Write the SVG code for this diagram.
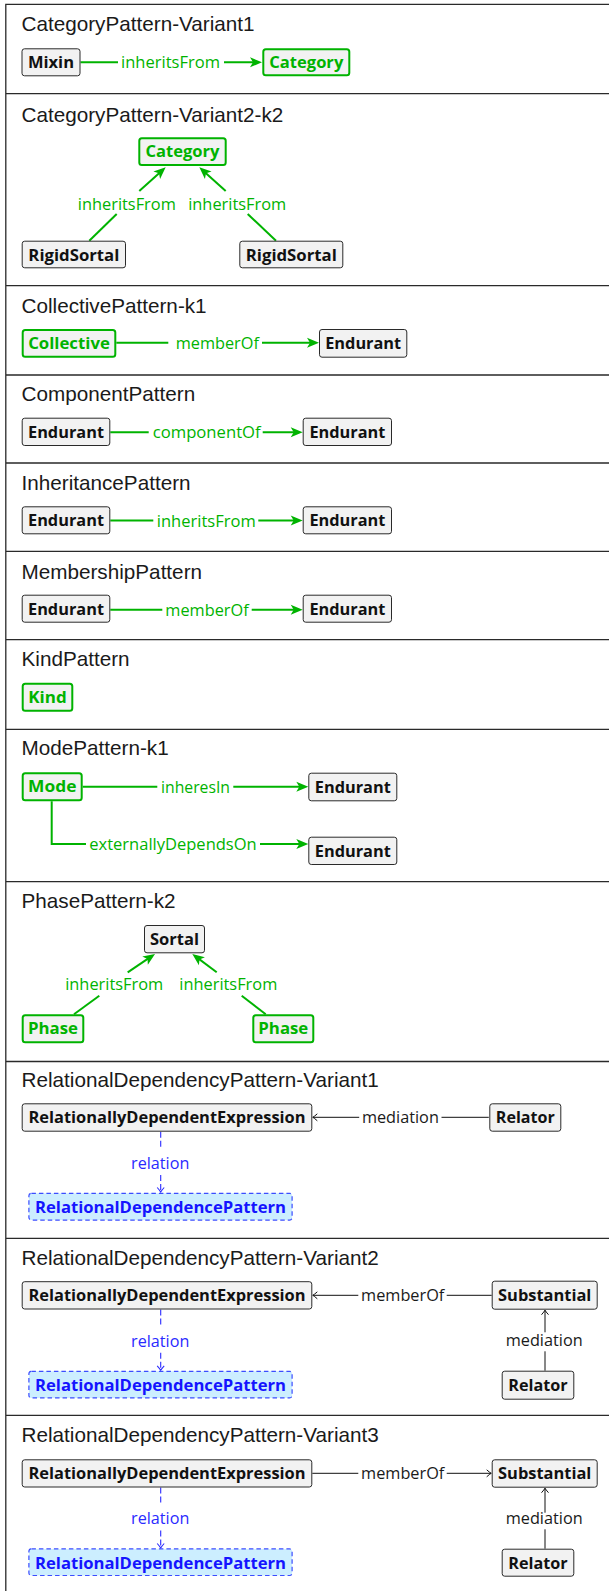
<svg xmlns="http://www.w3.org/2000/svg" width="609" height="1591" viewBox="0 0 609 1591">
<style>
.frame{stroke:#2a2a2a;stroke-width:1.3;fill:none}
.t{font-family:"Liberation Sans",Arial,sans-serif;font-size:20.7px;fill:#1a1a1a}
.nb{fill:#f2f2f2;stroke:#2a2a2a;stroke-width:1}
.ng{fill:#f2f2f2;stroke:#00b300;stroke-width:2}
.nd{fill:#cceeff;stroke:#3b4dff;stroke-width:1.2;stroke-dasharray:4.5 3}
.nt{font-family:"Open Sans","Liberation Sans",sans-serif;font-weight:700;font-size:16.5px;text-anchor:middle;fill:#111}
.ntg{fill:#00b300}
.ntb{fill:#1414ff}
.el{font-family:"Open Sans","Liberation Sans",sans-serif;font-size:15.5px;text-anchor:middle}
.lg{fill:#00b300}
.lk{fill:#1a1a1a}
.lb{fill:#2a2aff}
.eg{stroke:#00b300;stroke-width:2;fill:none}
.ek{stroke:#111;stroke-width:1;fill:none}
.eb{stroke:#2b2bff;stroke-width:1.1;stroke-dasharray:6 3;fill:none}
</style>
<defs>
<marker id="ag" viewBox="-9 -6 14 12" refX="0" refY="0" markerWidth="14" markerHeight="12" markerUnits="userSpaceOnUse" orient="auto"><path d="M4,0 L-8,-5 L-5,0 L-8,5 Z" fill="#00b300"/></marker>
<marker id="ak" viewBox="-6 -5 7 10" refX="0" refY="0" markerWidth="7" markerHeight="10" markerUnits="userSpaceOnUse" orient="auto"><path d="M-4.5,-3.5 Q-1.5,-0.8 0,0 Q-1.5,0.8 -4.5,3.5" fill="none" stroke="#111" stroke-width="1"/></marker>
<marker id="ab" viewBox="-6 -5 7 10" refX="0" refY="0" markerWidth="7" markerHeight="10" markerUnits="userSpaceOnUse" orient="auto"><path d="M-4.5,-3.5 Q-1.5,-0.8 0,0 Q-1.5,0.8 -4.5,3.5" fill="none" stroke="#2b2bff" stroke-width="1.1"/></marker>
</defs>
<rect width="609" height="1591" fill="#ffffff"/>
<g id="table">
<path class="frame" d="M5.8,1591 V4.3 H609 M5.8,93.7 H609 M5.8,285.7 H609 M5.8,375 H609 M5.8,463 H609 M5.8,551.3 H609 M5.8,639.7 H609 M5.8,729.3 H609 M5.8,881.6 H609 M5.8,1061.5 H609 M5.8,1238.3 H609 M5.8,1415.3 H609"/>
</g>
<g id="titles">
<text class="t" x="21.5" y="30.5">CategoryPattern-Variant1</text>
<text class="t" x="21.5" y="121.7">CategoryPattern-Variant2-k2</text>
<text class="t" x="21.5" y="312.7">CollectivePattern-k1</text>
<text class="t" x="21.5" y="400.7">ComponentPattern</text>
<text class="t" x="21.5" y="490.3">InheritancePattern</text>
<text class="t" x="21.5" y="578.7">MembershipPattern</text>
<text class="t" x="21.5" y="666">KindPattern</text>
<text class="t" x="21.5" y="755">ModePattern-k1</text>
<text class="t" x="21.5" y="908.3">PhasePattern-k2</text>
<text class="t" x="21.5" y="1086.7">RelationalDependencyPattern-Variant1</text>
<text class="t" x="21.5" y="1264.5">RelationalDependencyPattern-Variant2</text>
<text class="t" x="21.5" y="1442.2">RelationalDependencyPattern-Variant3</text>
</g>
<g id="connectors">
<path class="eg" d="M80.5,62.3 H118"/><path class="eg" d="M224,62.3 H258" marker-end="url(#ag)"/>
<text class="el lg" x="170.5" y="68.3" textLength="99" lengthAdjust="spacingAndGlyphs">inheritsFrom</text>
<path class="eg" d="M89.3,240.7 L116.7,214"/><path class="eg" d="M139.3,191 L162.7,170" marker-end="url(#ag)"/>
<text class="el lg" x="126.8" y="210" textLength="98" lengthAdjust="spacingAndGlyphs">inheritsFrom</text>
<path class="eg" d="M276,240.7 L247.7,214"/><path class="eg" d="M225.7,191 L202.3,170" marker-end="url(#ag)"/>
<text class="el lg" x="237.2" y="210" textLength="98" lengthAdjust="spacingAndGlyphs">inheritsFrom</text>
<path class="eg" d="M116.3,342.7 H168.3"/><path class="eg" d="M262,342.7 H315" marker-end="url(#ag)"/>
<text class="el lg" x="217.3" y="348.7" textLength="83.3" lengthAdjust="spacingAndGlyphs">memberOf</text>
<path class="eg" d="M110.3,432.3 H148.7"/><path class="eg" d="M262.7,432.3 H298.7" marker-end="url(#ag)"/>
<text class="el lg" x="206.7" y="438.3" textLength="108" lengthAdjust="spacingAndGlyphs">componentOf</text>
<path class="eg" d="M110.3,520.5 H153.3"/><path class="eg" d="M258.3,520.5 H298.7" marker-end="url(#ag)"/>
<text class="el lg" x="206.3" y="526.5" textLength="99" lengthAdjust="spacingAndGlyphs">inheritsFrom</text>
<path class="eg" d="M110.3,609.7 H162.3"/><path class="eg" d="M251.7,609.7 H298.7" marker-end="url(#ag)"/>
<text class="el lg" x="207" y="615.7" textLength="83.3" lengthAdjust="spacingAndGlyphs">memberOf</text>
<path class="eg" d="M82.7,786.7 H157.3"/><path class="eg" d="M233.3,786.7 H304.3" marker-end="url(#ag)"/>
<text class="el lg" x="195.5" y="792.7" textLength="69" lengthAdjust="spacingAndGlyphs">inheresIn</text>
<path class="eg" d="M51.7,801.3 V844 H86"/><path class="eg" d="M260,844 H304.3" marker-end="url(#ag)"/>
<text class="el lg" x="173" y="850" textLength="167.4" lengthAdjust="spacingAndGlyphs">externallyDependsOn</text>
<path class="eg" d="M74,1014.3 L99.3,995.7"/><path class="eg" d="M127.7,972.3 L151.7,956.2" marker-end="url(#ag)"/>
<text class="el lg" x="114.2" y="990" textLength="98" lengthAdjust="spacingAndGlyphs">inheritsFrom</text>
<path class="eg" d="M265.7,1014.3 L241.7,995.7"/><path class="eg" d="M216.7,972.3 L195.5,956.4" marker-end="url(#ag)"/>
<text class="el lg" x="228.3" y="990" textLength="98" lengthAdjust="spacingAndGlyphs">inheritsFrom</text>
<path class="ek" d="M488.8,1117.3 H441.5"/><path class="ek" d="M359.2,1117.3 H312.8" marker-end="url(#ak)"/>
<text class="el lk" x="400.4" y="1123.3" textLength="77" lengthAdjust="spacingAndGlyphs">mediation</text>
<path class="eb" d="M160.7,1131.7 V1148.3"/><path class="eb" d="M160.7,1175 V1192" marker-end="url(#ab)"/>
<text class="el lb" x="160.2" y="1169" textLength="58.3" lengthAdjust="spacingAndGlyphs">relation</text>
<path class="ek" d="M491.7,1295.3 H446.7"/><path class="ek" d="M358.3,1295.3 H312.8" marker-end="url(#ak)"/>
<text class="el lk" x="402.7" y="1301.3" textLength="83.3" lengthAdjust="spacingAndGlyphs">memberOf</text>
<path class="ek" d="M545,1370.7 V1351.3"/><path class="ek" d="M545,1332.3 V1310.2" marker-end="url(#ak)"/>
<text class="el lk" x="544.2" y="1346.3" textLength="77" lengthAdjust="spacingAndGlyphs">mediation</text>
<path class="eb" d="M160.7,1309.5 V1326"/><path class="eb" d="M160.7,1352.7 V1370.3" marker-end="url(#ab)"/>
<text class="el lb" x="160.2" y="1346.7" textLength="58.3" lengthAdjust="spacingAndGlyphs">relation</text>
<path class="ek" d="M312.3,1473.3 H358.3"/><path class="ek" d="M446.7,1473.3 H491.2" marker-end="url(#ak)"/>
<text class="el lk" x="402.7" y="1479.3" textLength="83.3" lengthAdjust="spacingAndGlyphs">memberOf</text>
<path class="ek" d="M545,1548.7 V1529.3"/><path class="ek" d="M545,1512.7 V1488.2" marker-end="url(#ak)"/>
<text class="el lk" x="544.2" y="1524.3" textLength="77" lengthAdjust="spacingAndGlyphs">mediation</text>
<path class="eb" d="M160.7,1487.5 V1504"/><path class="eb" d="M160.7,1530.5 V1548" marker-end="url(#ab)"/>
<text class="el lb" x="160.2" y="1524" textLength="58.3" lengthAdjust="spacingAndGlyphs">relation</text>
</g>
<g id="s1-mixin"><rect class="nb" x="22" y="48.8" width="58" height="27" rx="2.5"/><text class="nt" x="51" y="68.3" textLength="46" lengthAdjust="spacingAndGlyphs">Mixin</text></g>
<g id="s1-category"><rect class="ng" x="263.3" y="49.3" width="86" height="26" rx="2.5"/><text class="nt ntg" x="306.3" y="68.3" textLength="74" lengthAdjust="spacingAndGlyphs">Category</text></g>
<g id="s2-category"><rect class="ng" x="139.3" y="138.3" width="86.4" height="26.7" rx="2.5"/><text class="nt ntg" x="182.5" y="157.4" textLength="74" lengthAdjust="spacingAndGlyphs">Category</text></g>
<g id="s2-rigidsortal-1"><rect class="nb" x="22.2" y="241.2" width="103.3" height="26.6" rx="2.5"/><text class="nt" x="73.85" y="260.7" textLength="91" lengthAdjust="spacingAndGlyphs">RigidSortal</text></g>
<g id="s2-rigidsortal-2"><rect class="nb" x="239.8" y="241.2" width="103" height="26.6" rx="2.5"/><text class="nt" x="291.3" y="260.7" textLength="91" lengthAdjust="spacingAndGlyphs">RigidSortal</text></g>
<g id="s3-collective"><rect class="ng" x="22.7" y="330" width="92.6" height="26.7" rx="2.5"/><text class="nt ntg" x="69" y="349" textLength="81.7" lengthAdjust="spacingAndGlyphs">Collective</text></g>
<g id="s3-endurant"><rect class="nb" x="319.5" y="329.5" width="87.3" height="27.7" rx="2.5"/><text class="nt" x="363.2" y="349" textLength="76" lengthAdjust="spacingAndGlyphs">Endurant</text></g>
<g id="s4-endurant-1"><rect class="nb" x="22.2" y="418.2" width="87.6" height="27.3" rx="2.5"/><text class="nt" x="66" y="437.7" textLength="76" lengthAdjust="spacingAndGlyphs">Endurant</text></g>
<g id="s4-endurant-2"><rect class="nb" x="303.2" y="418.2" width="88.3" height="27.3" rx="2.5"/><text class="nt" x="347.4" y="437.7" textLength="76" lengthAdjust="spacingAndGlyphs">Endurant</text></g>
<g id="s5-endurant-1"><rect class="nb" x="22.2" y="506.8" width="87.6" height="27" rx="2.5"/><text class="nt" x="66" y="526.3" textLength="76" lengthAdjust="spacingAndGlyphs">Endurant</text></g>
<g id="s5-endurant-2"><rect class="nb" x="303.2" y="506.8" width="88.3" height="27" rx="2.5"/><text class="nt" x="347.4" y="526.3" textLength="76" lengthAdjust="spacingAndGlyphs">Endurant</text></g>
<g id="s6-endurant-1"><rect class="nb" x="22.2" y="595.2" width="87.6" height="27" rx="2.5"/><text class="nt" x="66" y="614.7" textLength="76" lengthAdjust="spacingAndGlyphs">Endurant</text></g>
<g id="s6-endurant-2"><rect class="nb" x="303.2" y="595.2" width="88.3" height="27" rx="2.5"/><text class="nt" x="347.4" y="614.7" textLength="76" lengthAdjust="spacingAndGlyphs">Endurant</text></g>
<g id="s7-kind"><rect class="ng" x="22.7" y="683.7" width="49.6" height="27" rx="2.5"/><text class="nt ntg" x="47.5" y="702.7" textLength="38.4" lengthAdjust="spacingAndGlyphs">Kind</text></g>
<g id="s8-mode"><rect class="ng" x="22.7" y="773.3" width="59" height="27" rx="2.5"/><text class="nt ntg" x="52.2" y="792.3" textLength="48.4" lengthAdjust="spacingAndGlyphs">Mode</text></g>
<g id="s8-endurant-1"><rect class="nb" x="308.8" y="773.2" width="88" height="27.6" rx="2.5"/><text class="nt" x="352.8" y="792.7" textLength="76" lengthAdjust="spacingAndGlyphs">Endurant</text></g>
<g id="s8-endurant-2"><rect class="nb" x="308.8" y="837.2" width="88" height="27.3" rx="2.5"/><text class="nt" x="352.8" y="856.7" textLength="76" lengthAdjust="spacingAndGlyphs">Endurant</text></g>
<g id="s9-sortal"><rect class="nb" x="144.5" y="925.5" width="60" height="27.3" rx="2.5"/><text class="nt" x="174.5" y="945" textLength="49" lengthAdjust="spacingAndGlyphs">Sortal</text></g>
<g id="s9-phase-1"><rect class="ng" x="22.7" y="1015.3" width="60.6" height="27" rx="2.5"/><text class="nt ntg" x="53" y="1034.3" textLength="50" lengthAdjust="spacingAndGlyphs">Phase</text></g>
<g id="s9-phase-2"><rect class="ng" x="253.3" y="1015.3" width="60" height="27" rx="2.5"/><text class="nt ntg" x="283.3" y="1034.3" textLength="50" lengthAdjust="spacingAndGlyphs">Phase</text></g>
<g id="s10-rde"><rect class="nb" x="22.2" y="1103.8" width="289.6" height="27.4" rx="2.5"/><text class="nt" x="167" y="1123.3" textLength="277" lengthAdjust="spacingAndGlyphs">RelationallyDependentExpression</text></g>
<g id="s10-rdp"><rect class="nd" x="28.9" y="1193.3" width="263.2" height="26.8" rx="2.5"/><text class="nt ntb" x="160.5" y="1213" textLength="251" lengthAdjust="spacingAndGlyphs">RelationalDependencePattern</text></g>
<g id="s10-relator"><rect class="nb" x="489.8" y="1103.8" width="71" height="27.4" rx="2.5"/><text class="nt" x="525.3" y="1123.3" textLength="59" lengthAdjust="spacingAndGlyphs">Relator</text></g>
<g id="s11-rde"><rect class="nb" x="22.2" y="1281.7" width="289.6" height="27.3" rx="2.5"/><text class="nt" x="167" y="1301.2" textLength="277" lengthAdjust="spacingAndGlyphs">RelationallyDependentExpression</text></g>
<g id="s11-rdp"><rect class="nd" x="28.9" y="1371.3" width="263.2" height="26.6" rx="2.5"/><text class="nt ntb" x="160.5" y="1391" textLength="251" lengthAdjust="spacingAndGlyphs">RelationalDependencePattern</text></g>
<g id="s11-substantial"><rect class="nb" x="492.2" y="1281.2" width="105" height="28" rx="2.5"/><text class="nt" x="544.7" y="1301.1" textLength="93.3" lengthAdjust="spacingAndGlyphs">Substantial</text></g>
<g id="s11-relator"><rect class="nb" x="502.2" y="1371.2" width="71.6" height="28" rx="2.5"/><text class="nt" x="538" y="1391" textLength="59.4" lengthAdjust="spacingAndGlyphs">Relator</text></g>
<g id="s12-rde"><rect class="nb" x="22.2" y="1459.8" width="289.6" height="27.2" rx="2.5"/><text class="nt" x="167" y="1479.3" textLength="277" lengthAdjust="spacingAndGlyphs">RelationallyDependentExpression</text></g>
<g id="s12-rdp"><rect class="nd" x="28.9" y="1548.9" width="263.2" height="26.6" rx="2.5"/><text class="nt ntb" x="160.5" y="1568.5" textLength="251" lengthAdjust="spacingAndGlyphs">RelationalDependencePattern</text></g>
<g id="s12-substantial"><rect class="nb" x="492.2" y="1459.8" width="105" height="27.4" rx="2.5"/><text class="nt" x="544.7" y="1479.3" textLength="93.3" lengthAdjust="spacingAndGlyphs">Substantial</text></g>
<g id="s12-relator"><rect class="nb" x="502.2" y="1549.2" width="71.6" height="27" rx="2.5"/><text class="nt" x="538" y="1568.7" textLength="59.4" lengthAdjust="spacingAndGlyphs">Relator</text></g>
</svg>
